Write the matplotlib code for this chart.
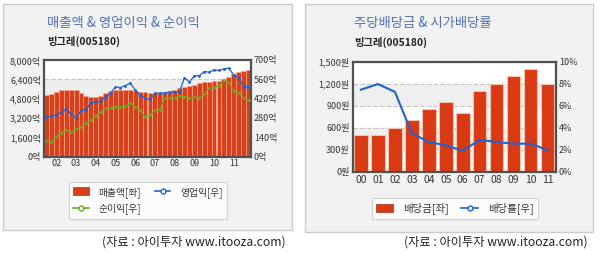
import numpy as np
import matplotlib
matplotlib.use("Agg")
import matplotlib.pyplot as plt
from matplotlib.patches import Rectangle
from matplotlib.lines import Line2D

plt.rcParams['font.family'] = ['Noto Sans CJK KR', 'DejaVu Sans']

# left chart: quarterly (trailing) values, 2001Q3 .. 2012Q2
sales = [5130, 5210, 5350, 5480, 5540, 5540, 5520, 5240, 5050, 4970,
         4900, 5050, 5260, 5400, 5480, 5520, 5520, 5480, 5420, 5380,
         5340, 5260, 5260, 5280, 5300, 5420, 5500, 5700, 5750, 5860,
         5950, 6070, 6150, 6190, 6250, 6300, 6400, 6600, 6840, 7000,
         7100, 7160]
op_income = [285, 293, 301, 320, 342, 310, 277, 333, 338, 391,
             395, 403, 434, 459, 505, 500, 515, 531, 483, 446,
             422, 412, 459, 460, 462, 466, 470, 470, 572, 539,
             587, 585, 616, 612, 628, 625, 635, 640, 592, 567,
             507, 507]
net_income = [113, 103, 144, 170, 192, 176, 200, 216, 240, 265,
              296, 320, 350, 354, 362, 360, 367, 386, 362, 340,
              285, 301, 338, 338, 427, 424, 422, 441, 434, 427,
              430, 427, 450, 495, 500, 512, 555, 536, 478, 463,
              422, 410]
left_xticks = [2, 6, 10, 14, 18, 22, 26, 30, 34, 38]
left_xlabels = ['02', '03', '04', '05', '06', '07', '08', '09', '10', '11']
left_yticks = [0, 1600, 3200, 4800, 6400, 8000]
left_rticks = [0, 140, 280, 420, 560, 700]

# right chart: yearly dividend
years = ['00', '01', '02', '03', '04', '05', '06', '07', '08', '09', '10', '11']
dividend = [500, 500, 600, 700, 850, 950, 800, 1100, 1200, 1300, 1400, 1200]
div_yield = [7.45, 7.95, 7.25, 3.5, 2.7, 2.4, 1.9, 2.9, 2.7, 2.55, 2.55, 1.97]
right_yticks = [0, 300, 600, 900, 1200, 1500]
right_rticks = [0, 2, 4, 6, 8, 10]

W, H = 601, 254
fig = plt.figure(figsize=(W / 100, H / 100), dpi=100)
fig.patch.set_facecolor('white')

def box(x0, y0, x1, y1):
    return [x0 / W, 1 - y1 / H, (x1 - x0) / W, (y1 - y0) / H]

# panels
for x0, y0, x1, y1 in [(3, 4, 292, 230), (305, 4, 593, 232)]:
    fig.patches.append(Rectangle((x0 / W, 1 - y1 / H), (x1 - x0) / W, (y1 - y0) / H,
                                 transform=fig.transFigure, facecolor='#f2f2f2',
                                 edgecolor='#cccccc', linewidth=1, zorder=-10))

title_col = '#4f72b6'
bar_col = '#d8401c'
blue = '#1f62d0'
green = '#6fa820'
fs = 6.5

def style(ax, ax2):
    for sp in ax.spines.values():
        sp.set_color('#505050')
        sp.set_linewidth(1.6)
    ax2.spines[:].set_visible(False)
    ax.tick_params(length=0, labelsize=fs, colors='#333333', pad=2)
    ax2.tick_params(length=0, labelsize=fs, colors='#333333', pad=2)
    ax.set_facecolor('white')
    ax.set_axisbelow(True)

# ---------- left chart ----------
ax = fig.add_axes(box(44, 60, 251, 156.5))
ax2 = ax.twinx()
x = np.arange(len(sales))
for lo, hi in [(1600, 3200), (4800, 6400)]:
    ax.axhspan(lo, hi, color='#efefef', zorder=0)
ax.yaxis.grid(True, color='#c8c8c8', linestyle=(0, (4, 2)), linewidth=0.8)
ax.bar(x, sales, width=1.0, color=bar_col, edgecolor='#f2a488', linewidth=0.5, zorder=2)
ax.set_xlim(-0.5, len(sales) - 0.5)
ax.set_ylim(0, 8000)
ax.set_yticks(left_yticks)
ax.set_yticklabels([f'{v:,}억' for v in left_yticks])
ax.set_xticks(left_xticks)
ax.set_xticklabels(left_xlabels)
ax2.plot(x, op_income, color=blue, linewidth=0.9, marker='o', markersize=1)
ax2.plot(x, net_income, color=green, linewidth=0.9, marker='o', markersize=1)
ax2.set_ylim(0, 700)
ax2.set_yticks(left_rticks)
ax2.set_yticklabels([f'{v}억' for v in left_rticks])
style(ax, ax2)

fig.text(47 / W, 1 - 23 / H, '매출액 & 영업이익 & 순이익', color=title_col,
         fontsize=9.6, va='center', ha='left')
fig.text(47 / W, 1 - 41 / H, '빙그레(005180)', color='#222222',
         fontsize=7.4, fontweight='bold', va='center', ha='left')

h_bar = Rectangle((0, 0), 1, 1, facecolor=bar_col, edgecolor='#a83010', linewidth=0.5)
h_op = Line2D([], [], color=blue, linewidth=1.2, marker='o', markersize=3.5,
              markerfacecolor='white', markeredgecolor=blue)
h_net = Line2D([], [], color=green, linewidth=1.2, marker='o', markersize=3.5,
               markerfacecolor='white', markeredgecolor=green)
leg = fig.legend([h_bar, h_net, h_op], ['매출액[좌]', '순이익[우]', '영업익[우]'],
                 ncol=2, loc='center', bbox_to_anchor=(148 / W, 1 - 200.5 / H),
                 fontsize=7, frameon=True, fancybox=False, edgecolor='#c8c8c8',
                 handlelength=1.6, handleheight=0.9, columnspacing=1.4,
                 labelspacing=0.6, borderpad=0.5, handletextpad=1.0)
leg.get_frame().set_linewidth(0.8)
for t in leg.get_texts():
    t.set_color('#333333')

# ---------- right chart ----------
bx = fig.add_axes(box(352.5, 61.5, 556, 171.8))
bx2 = bx.twinx()
xr = np.arange(len(years))
for lo, hi in [(300, 600), (900, 1200)]:
    bx.axhspan(lo, hi, color='#efefef', zorder=0)
bx.yaxis.grid(True, color='#c8c8c8', linestyle=(0, (4, 2)), linewidth=0.8)
bx.bar(xr, dividend, width=0.8, color='#d93a14', edgecolor='#f5c2b0', linewidth=0.8, zorder=2)
bx.set_xlim(-0.5, len(years) - 0.5)
bx.set_ylim(0, 1500)
bx.set_yticks(right_yticks)
bx.set_yticklabels([f'{v:,}원' for v in right_yticks])
bx.set_xticks(xr)
bx.set_xticklabels(years)
bx2.plot(xr, div_yield, color=blue, linewidth=1.5)
bx2.set_ylim(0, 10)
bx2.set_yticks(right_rticks)
bx2.set_yticklabels([f'{v}%' for v in right_rticks])
style(bx, bx2)
bx.tick_params(axis='x', labelsize=7.5)

fig.text(354 / W, 1 - 23 / H, '주당배당금 & 시가배당률', color=title_col,
         fontsize=9.6, va='center', ha='left')
fig.text(354 / W, 1 - 42 / H, '빙그레(005180)', color='#222222',
         fontsize=7.4, fontweight='bold', va='center', ha='left')

h_div = Rectangle((0, 0), 1, 1, facecolor='#d93a14', edgecolor='#a83010', linewidth=0.5)
h_yld = Line2D([], [], color=blue, linewidth=1.2, marker='o', markersize=3.5,
               markerfacecolor='white', markeredgecolor=blue)
leg2 = fig.legend([h_div, h_yld], ['배당금[좌]', '배당률[우]'], ncol=2, loc='center',
                  bbox_to_anchor=(455 / W, 1 - 208.5 / H), fontsize=7.5, frameon=True,
                  fancybox=False, edgecolor='#c8c8c8', handlelength=1.6,
                  handleheight=0.9, columnspacing=1.2, borderpad=0.4, handletextpad=1.0)
leg2.get_frame().set_linewidth(0.8)
for t in leg2.get_texts():
    t.set_color('#333333')

# footers
for xr_px in [286, 588]:
    fig.text(xr_px / W, 1 - 242 / H, '(자료 : 아이투자 www.itooza.com)', fontsize=8.8,
             color='#222222', ha='right', va='center')

fig.savefig('out.png', dpi=100)
